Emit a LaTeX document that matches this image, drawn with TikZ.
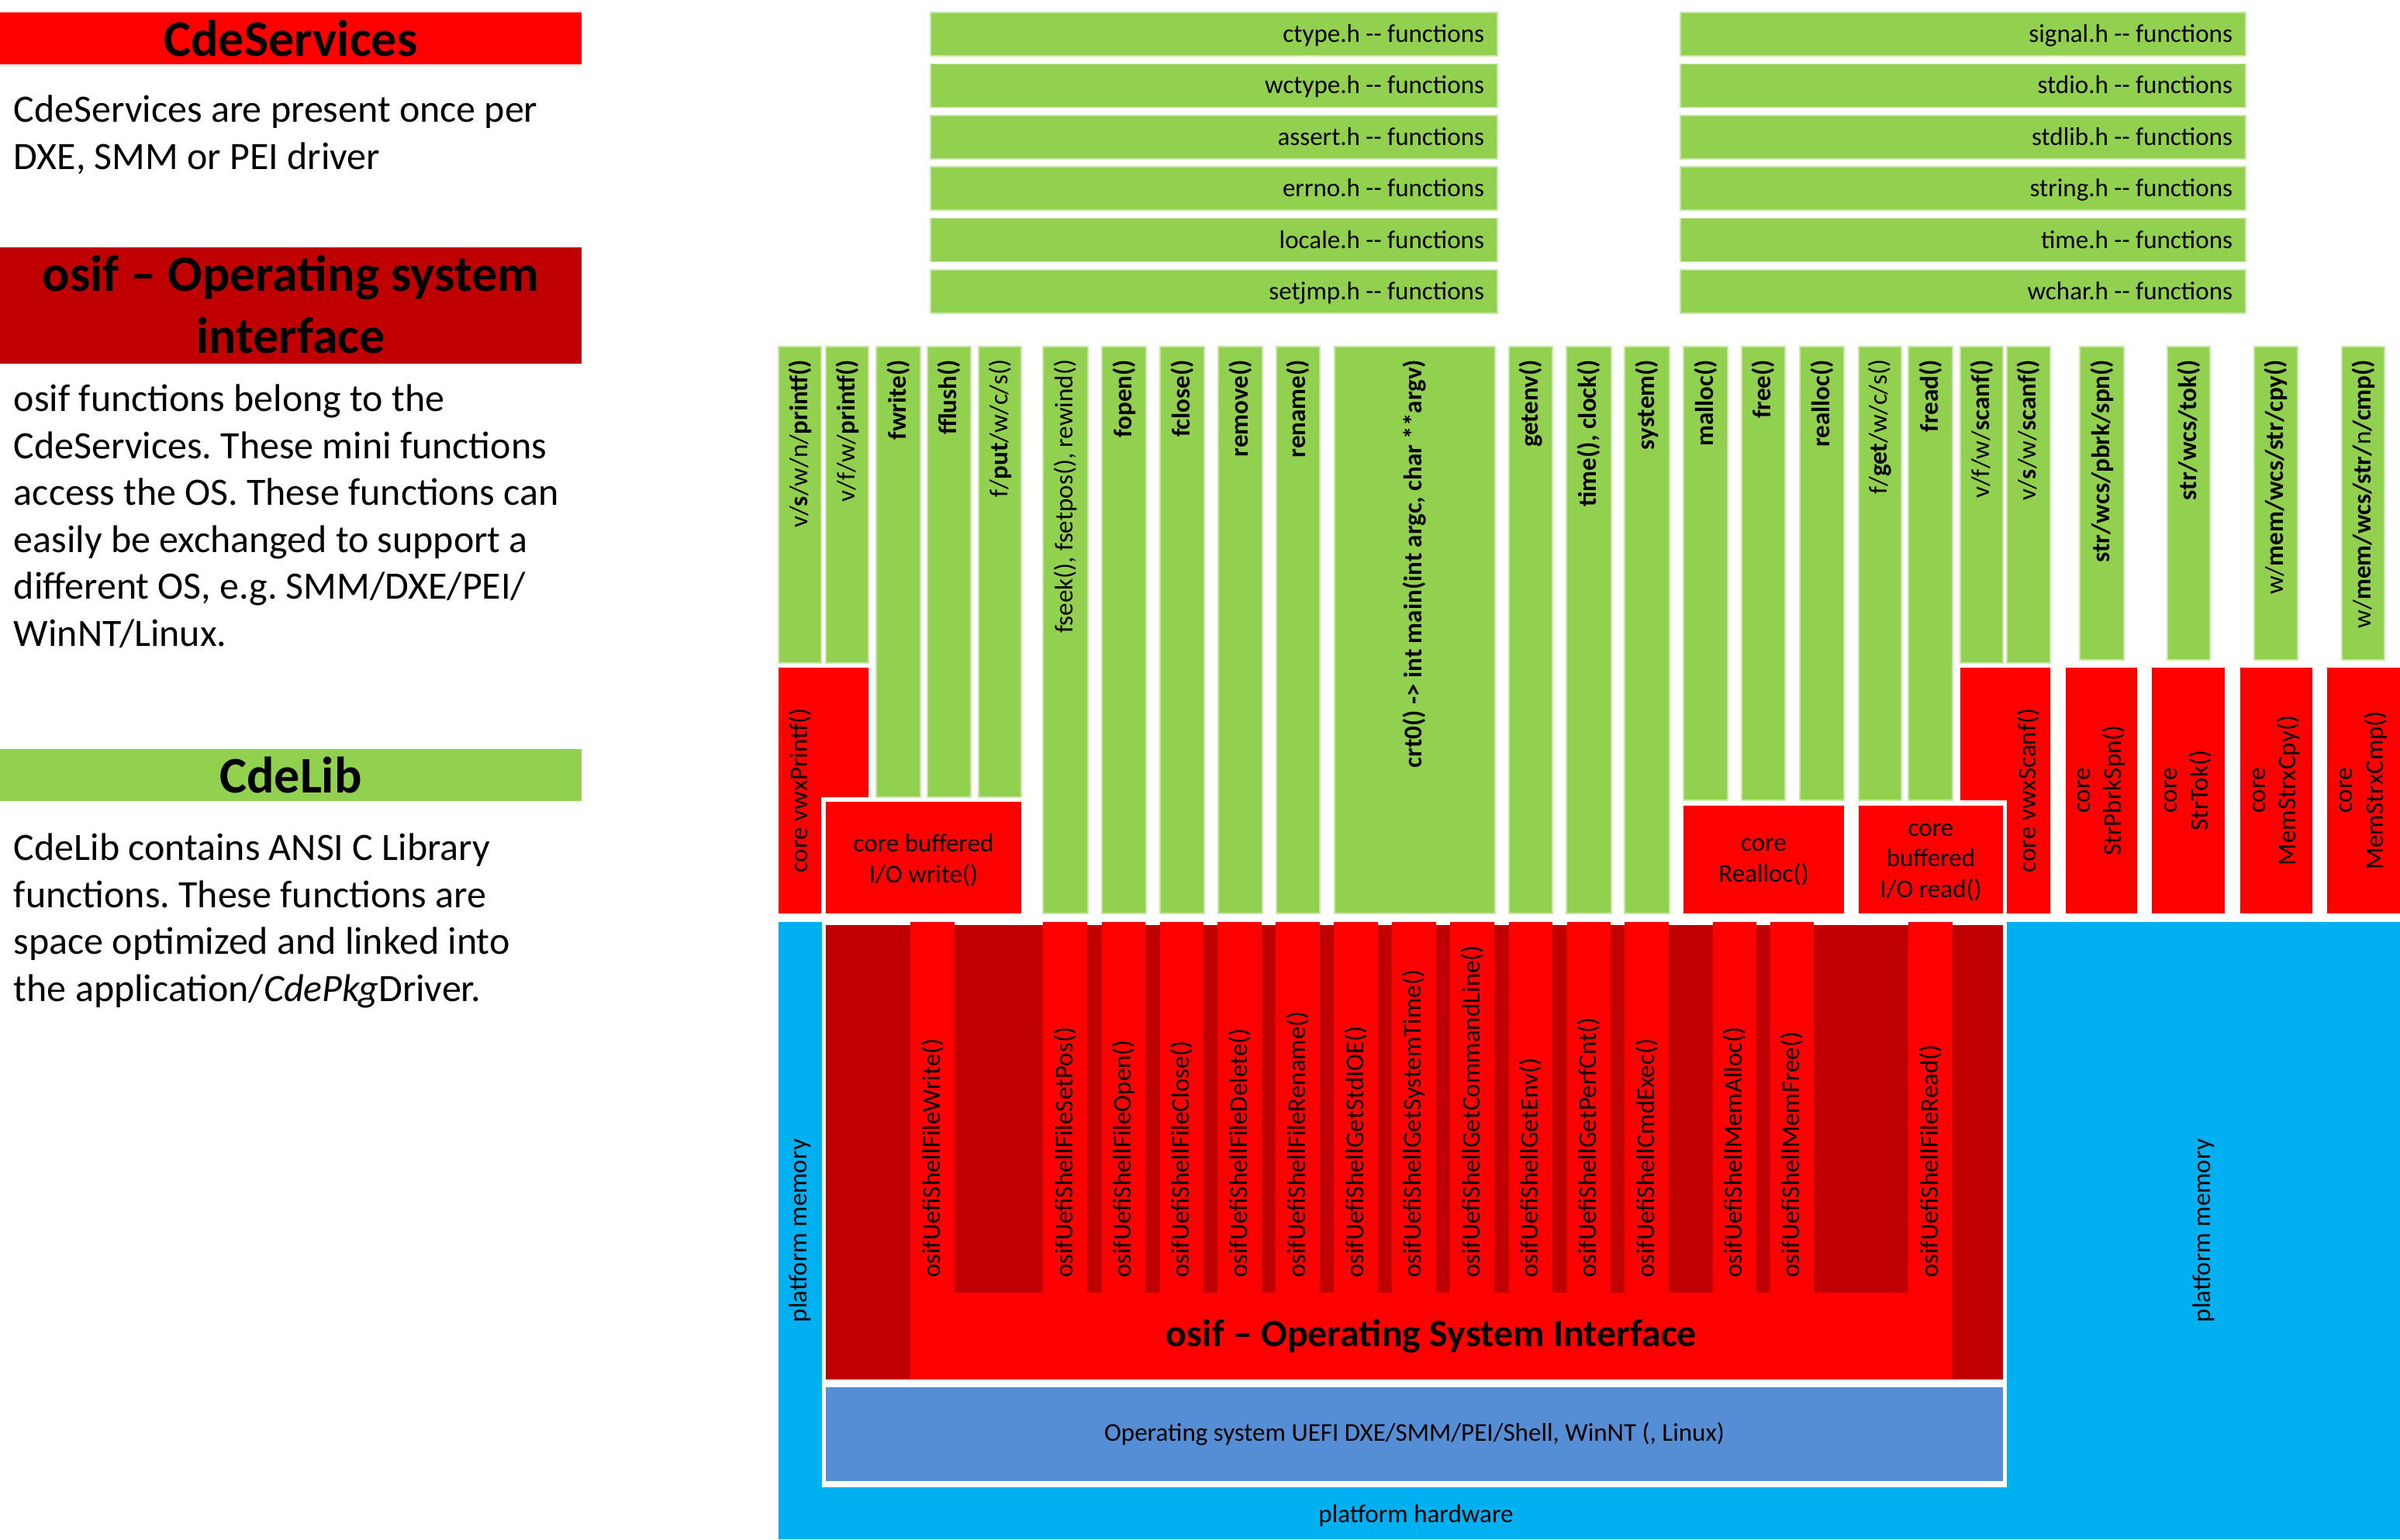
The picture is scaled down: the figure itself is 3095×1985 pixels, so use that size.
\documentclass[tikz,border=0pt]{standalone}
\usepackage{fontspec}
\setmainfont{Carlito}
\usepackage{tikz}
\usetikzlibrary{fit}
\definecolor{cdegreen}{HTML}{92D050}
\definecolor{cdered}{HTML}{FF0000}
\definecolor{cdedarkred}{HTML}{C00000}
\definecolor{cdecyan}{HTML}{00B0F0}
\definecolor{cdeblue}{HTML}{558ED5}
\newcommand{\fsmall}{\fontsize{9.4}{11.3}\selectfont}
\newcommand{\fbody}{\fontsize{14.2}{17.2}\selectfont}
\newcommand{\ftitle}{\fontsize{18.8}{22.8}\selectfont\bfseries}
\frenchspacing

\begin{document}
\begin{tikzpicture}[x=0.01cm, y=-0.01cm,
  every node/.style={inner sep=0pt, outer sep=0pt},
  titletext/.style={align=center, font=\ftitle},
  bodytext/.style={anchor=north west, align=left, font=\fbody},
  hdrbox/.style={fill=cdegreen, draw=cdegreen!50!white, line width=0.4pt},
  hdrtext/.style={anchor=base east, inner xsep=4.8pt, font=\fsmall},
  libcol/.style={fill=cdegreen, draw=cdegreen!50!white, line width=0.4pt},
  coltext/.style={rotate=90, anchor=east, inner xsep=4.8pt, font=\fsmall},
  corebox/.style={fill=cdered},
  coretext/.style={align=center, font=\fsmall, yshift=-1pt},
  rottext/.style={rotate=90, align=center, font=\fsmall},
  osifcol/.style={fill=cdered},
  osiftext/.style={rotate=90, anchor=west, font=\fsmall}]
\useasboundingbox (0,0) rectangle (3095,1985);
\fill[white] (0,0) rectangle (3095,1985);

% left panel
\node[fill=cdered, fit={(0,16) (750,83)}] (servicestitle) {};
\node[titletext] (servicestitle-t) at (servicestitle.center) {CdeServices};
\node[bodytext] (servicestext) at (18,123) {CdeServices are present once per\\DXE, SMM or PEI driver};
\node[fill=cdedarkred, fit={(0,319) (750,469)}] (osiftitle) {};
\node[titletext] (osiftitle-t) at ([yshift=0.5pt]osiftitle.center) {osif -- Operating system\\interface};
\node[bodytext] (osiftext) at (18,496) {osif functions belong to the\\CdeServices. These mini functions\\access the OS. These functions can\\easily be exchanged to support a\\different OS, e.g. SMM/DXE/PEI/\\WinNT/Linux.};
\node[fill=cdegreen, fit={(0,966) (750,1033)}] (libtitle) {};
\node[titletext] (libtitle-t) at (libtitle.center) {CdeLib};
\node[bodytext] (libtext) at (18,1075) {CdeLib contains ANSI C Library\\functions. These functions are\\space optimized and linked into\\the application/\textit{CdePkg}Driver.};

% header files
\foreach \h [count=\i from 0] in {ctype, wctype, assert, errno, locale, setjmp} {
  \node[hdrbox, fit={(1200,16+66.4*\i) (1931,72+66.4*\i)}] (hdr-\h) {};
  \node[hdrtext] (hdr-\h-t) at ([yshift=-3pt]hdr-\h.east) {\h.h -{}- functions};
}
\foreach \h [count=\i from 0] in {signal, stdio, stdlib, string, time, wchar} {
  \node[hdrbox, fit={(2167,16+66.4*\i) (2896,72+66.4*\i)}] (hdr-\h) {};
  \node[hdrtext] (hdr-\h-t) at ([yshift=-3pt]hdr-\h.east) {\h.h -{}- functions};
}

% platform
\fill[cdecyan] (1004,1189) -- (1060,1189) -- (1060,1918) -- (2588,1918) -- (2588,1189)
  -- (3095,1189) -- (3095,1985) -- (1004,1985) -- cycle;
\node[rottext] (memleft) at (1032,1587) {platform memory};
\node[rottext] (memright) at (2842,1587) {platform memory};
\node[font=\fsmall] (hardware) at (1826,1955) {platform hardware};
\node[fill=cdeblue, fit={(1065,1789) (2583,1910)}] (os) {};
\node[font=\fsmall] (os-t) at (os.center) {Operating system UEFI DXE/SMM/PEI/Shell, WinNT (, Linux)};

% osif
\node[fill=cdedarkred, fit={(1065,1193) (2583,1779)}] (osifback) {};
\node[fill=cdered, fit={(1174,1667) (2518,1779)}] (osifbar) {};
\node[font=\fontsize{14.2}{17}\selectfont\bfseries] (osifbar-t) at (osifbar.center) {osif -- Operating System Interface};
\foreach \xa/\xb/\fn in {1174/1231/FileWrite, 1345/1402/FileSetPos, 1421/1477/FileOpen,
    1496/1552/FileClose, 1570/1627/FileDelete, 1645/1702/FileRename, 1720/1777/GetStdIOE,
    1795/1852/GetSystemTime, 1870/1927/GetCommandLine, 1946/2002/GetEnv, 2021/2077/GetPerfCnt,
    2095/2152/CmdExec, 2209/2265/MemAlloc, 2283/2339/MemFree, 2461/2518/FileRead} {
  \node[osifcol, fit={(\xa,1189) (\xb,1668)}] (osif-\fn) {};
  \node[osiftext] (osif-\fn-t) at ([yshift=5.7pt]osif-\fn.south) {osifUefiShell\fn()};
}

% library functions
\node[libcol, fit={(1004,447) (1059,855)}] (vsprintf) {};
\node[coltext] (vsprintf-t) at (vsprintf.north) {v/\textbf{s}/w/n/\textbf{printf()}};
\node[libcol, fit={(1065,447) (1120,855)}] (vfprintf) {};
\node[coltext] (vfprintf-t) at (vfprintf.north) {v/f/w/\textbf{printf()}};
\node[libcol, fit={(1130,447) (1187,1028)}] (fwrite) {};
\node[coltext] (fwrite-t) at (fwrite.north) {\textbf{fwrite()}};
\node[libcol, fit={(1196,447) (1252,1028)}] (fflush) {};
\node[coltext] (fflush-t) at (fflush.north) {\textbf{fflush()}};
\node[libcol, fit={(1262,447) (1317,1028)}] (fput) {};
\node[coltext] (fput-t) at (fput.north) {f/\textbf{put}/w/c/s()};
\node[libcol, fit={(1345,447) (1403,1178)}] (fseek) {};
\node[coltext] (fseek-t) at (fseek.north) {fseek(), fsetpos(), rewind()};
\node[libcol, fit={(1421,447) (1478,1178)}] (fopen) {};
\node[coltext] (fopen-t) at (fopen.north) {\textbf{fopen()}};
\node[libcol, fit={(1496,447) (1553,1178)}] (fclose) {};
\node[coltext] (fclose-t) at (fclose.north) {\textbf{fclose()}};
\node[libcol, fit={(1571,447) (1628,1178)}] (remove) {};
\node[coltext] (remove-t) at (remove.north) {\textbf{remove()}};
\node[libcol, fit={(1646,447) (1702,1178)}] (rename) {};
\node[coltext] (rename-t) at (rename.north) {\textbf{rename()}};
\node[libcol, fit={(1721,447) (1928,1178)}] (crt0) {};
\node[coltext] (crt0-t) at (crt0.north) {\textbf{crt0() -> int main(int argc, char **argv)}};
\node[libcol, fit={(1946,447) (2002,1178)}] (getenv) {};
\node[coltext] (getenv-t) at (getenv.north) {\textbf{getenv()}};
\node[libcol, fit={(2020,447) (2078,1178)}] (time) {};
\node[coltext] (time-t) at (time.north) {\textbf{time(), clock()}};
\node[libcol, fit={(2095,447) (2153,1178)}] (system) {};
\node[coltext] (system-t) at (system.north) {\textbf{system()}};
\node[libcol, fit={(2171,447) (2228,1032)}] (malloc) {};
\node[coltext] (malloc-t) at (malloc.north) {\textbf{malloc()}};
\node[libcol, fit={(2246,447) (2302,1032)}] (free) {};
\node[coltext] (free-t) at (free.north) {\textbf{free()}};
\node[libcol, fit={(2321,447) (2378,1032)}] (realloc) {};
\node[coltext] (realloc-t) at (realloc.north) {\textbf{realloc()}};
\node[libcol, fit={(2397,447) (2452,1032)}] (fget) {};
\node[coltext] (fget-t) at (fget.north) {f/\textbf{get}/w/c/s()};
\node[libcol, fit={(2461,447) (2518,1032)}] (fread) {};
\node[coltext] (fread-t) at (fread.north) {\textbf{fread()}};
\node[libcol, fit={(2528,447) (2583,855)}] (vfscanf) {};
\node[coltext] (vfscanf-t) at (vfscanf.north) {v/f/w/\textbf{scanf()}};
\node[libcol, fit={(2588,447) (2644,855)}] (vsscanf) {};
\node[coltext] (vsscanf-t) at (vsscanf.north) {v/\textbf{s}/w/\textbf{scanf()}};
\node[libcol, fit={(2682,447) (2739,851)}] (strpbrk) {};
\node[coltext] (strpbrk-t) at (strpbrk.north) {\textbf{str/wcs/pbrk/spn()}};
\node[libcol, fit={(2795,447) (2850,851)}] (strtok) {};
\node[coltext] (strtok-t) at (strtok.north) {\textbf{str/wcs/tok()}};
\node[libcol, fit={(2907,447) (2963,851)}] (memcpy) {};
\node[coltext] (memcpy-t) at (memcpy.north) {w/\textbf{mem/wcs/str/cpy()}};
\node[libcol, fit={(3020,447) (3075,851)}] (memcmp) {};
\node[coltext] (memcmp-t) at (memcmp.north) {w/\textbf{mem/wcs/str/}n\textbf{/cmp()}};

% core functions
\fill[cdered] (1004,861) -- (1120,861) -- (1120,1028) -- (1059,1028) -- (1059,1178) -- (1004,1178) -- cycle;
\node[rottext] (vwxprintf) at (1031.5,1019.5) {core vwxPrintf()};
\node[corebox, fit={(1065,1034) (1317,1178)}] (bufwrite) {};
\node[coretext] (bufwrite-t) at (bufwrite.center) {core buffered\\I/O write()};
\node[corebox, fit={(2171,1039) (2378,1178)}] (corerealloc) {};
\node[coretext] (corerealloc-t) at (corerealloc.center) {core\\Realloc()};
\node[corebox, fit={(2397,1039) (2583,1178)}] (bufread) {};
\node[coretext] (bufread-t) at (bufread.center) {core\\buffered\\I/O read()};
\fill[cdered] (2528,861) -- (2644,861) -- (2644,1178) -- (2588,1178) -- (2588,1032) -- (2528,1032) -- cycle;
\node[rottext] (vwxscanf) at (2616,1019.5) {core vwxScanf()};
\node[corebox, fit={(2664,861) (2756,1178)}] (corepbrk) {};
\node[rottext] (corepbrk-t) at (corepbrk.center) {core\\StrPbrkSpn()};
\node[corebox, fit={(2775,861) (2869,1178)}] (coretok) {};
\node[rottext] (coretok-t) at (coretok.center) {core\\StrTok()};
\node[corebox, fit={(2889,861) (2982,1178)}] (corecpy) {};
\node[rottext] (corecpy-t) at (corecpy.center) {core\\MemStrxCpy()};
\node[corebox, fit={(3001,861) (3095,1178)}] (corecmp) {};
\node[rottext] (corecmp-t) at (corecmp.center) {core\\MemStrxCmp()};
\end{tikzpicture}
\end{document}
